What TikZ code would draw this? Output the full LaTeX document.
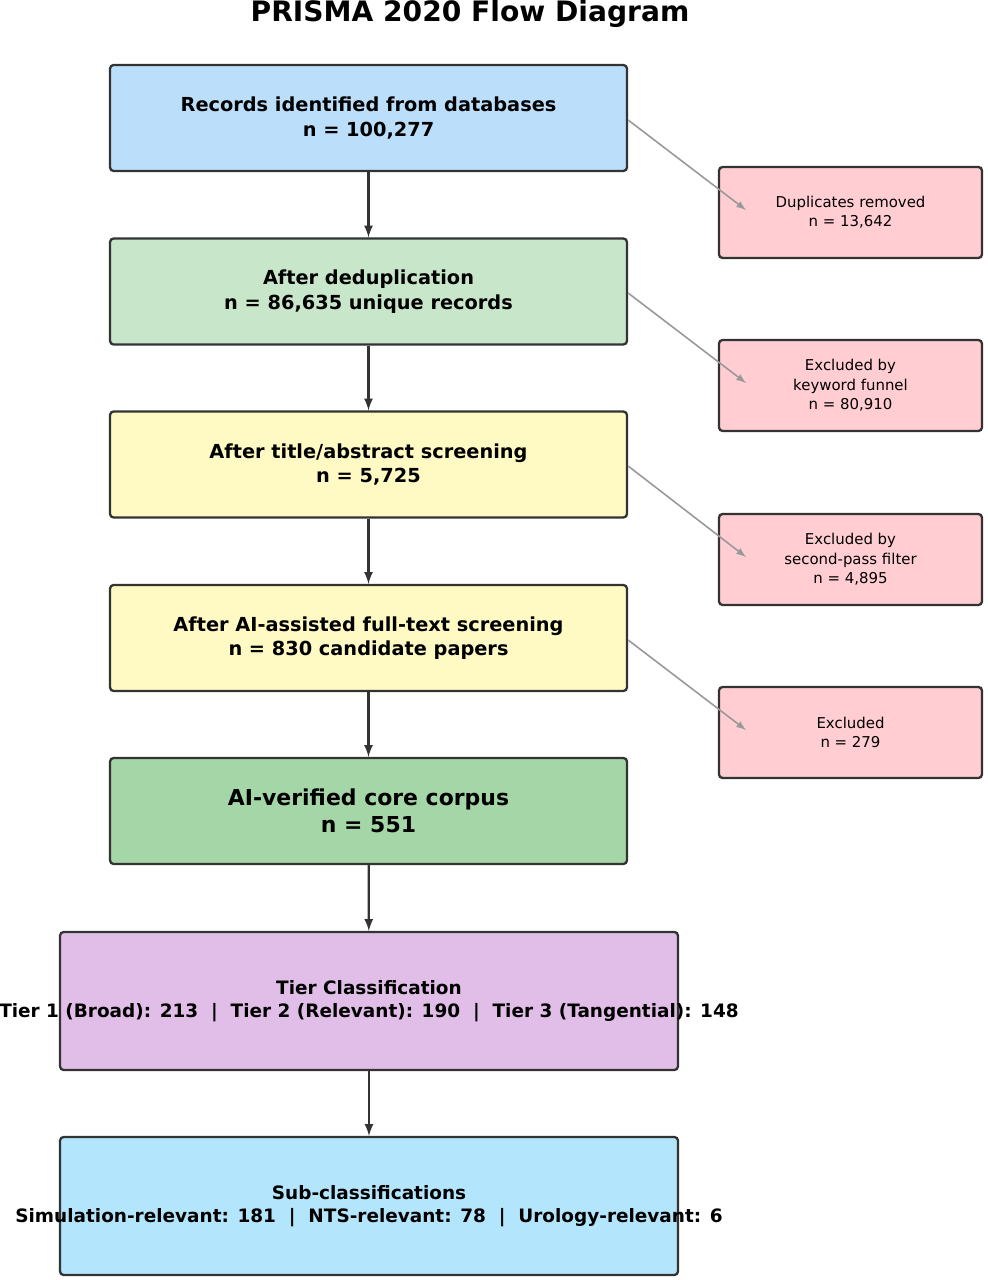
\documentclass[tikz,border=0pt]{standalone}
\usepackage{fontspec}
\setmainfont{DejaVu Sans}
\usetikzlibrary{positioning}
\definecolor{cblue}{HTML}{BBDEFB}
\definecolor{cgreen}{HTML}{C8E6C9}
\definecolor{cyellow}{HTML}{FFF9C4}
\definecolor{cpink}{HTML}{FFCDD2}
\definecolor{ccore}{HTML}{A5D6A7}
\definecolor{cpurple}{HTML}{E1BEE7}
\definecolor{clblue}{HTML}{B3E5FC}
\definecolor{cedge}{HTML}{333333}
\newcommand{\spillline}[1]{\makebox[0pt]{#1}}
\tikzset{
  mainbox/.style={draw=cedge, line width=1.3pt, rounded corners=2pt, minimum width=10.34cm, minimum height=2.12cm, align=center, font=\fontsize{11}{14}\selectfont\bfseries},
  widebox/.style={mainbox, minimum width=12.36cm, minimum height=2.76cm, font=\fontsize{10.5}{13}\selectfont\bfseries},
  sidebox/.style={draw=cedge, line width=1.3pt, rounded corners=2pt, fill=cpink, minimum width=5.26cm, minimum height=1.82cm, align=center, font=\fontsize{8.5}{11}\selectfont},
  flow/.style={-latex, line width=1.3pt, draw=cedge},
  drop/.style={-latex, line width=0.9pt, draw=gray!80}
}
\begin{document}
\begin{tikzpicture}[x=0.02cm, y=-0.02cm]
\useasboundingbox[fill=white] (0,0) rectangle (987,1280);
\node[font=\fontsize{16}{18}\selectfont\bfseries] (title) at (470,14) {PRISMA 2020 Flow Diagram};

\node[mainbox, fill=cblue] (ident) at (368.5,118) {Records identified from databases\\n = 100,277};
\node[mainbox, fill=cgreen] (dedup) at (368.5,291.5) {After deduplication\\n = 86,635 unique records};
\node[mainbox, fill=cyellow] (title2) at (368.5,464.5) {After title/abstract screening\\n = 5,725};
\node[mainbox, fill=cyellow] (full) at (368.5,638) {After AI-assisted full-text screening\\n = 830 candidate papers};
\node[mainbox, fill=ccore, font=\fontsize{12.5}{15.5}\selectfont\bfseries] (core) at (368.5,811) {AI-verified core corpus\\n = 551};
\node[widebox, fill=cpurple] (tier) at (369,1001) {Tier Classification\\\spillline{Tier 1 (Broad): 213 \ | \ Tier 2 (Relevant): 190 \ | \ Tier 3 (Tangential): 148}};
\node[widebox, fill=clblue] (sub) at (369,1206) {Sub-classifications\\\spillline{Simulation-relevant: 181 \ | \ NTS-relevant: 78 \ | \ Urology-relevant: 6}};

\node[sidebox] (dup) at (850.5,212.5) {Duplicates removed\\n = 13,642};
\node[sidebox] (kw) at (850.5,385.5) {Excluded by\\keyword funnel\\n = 80,910};
\node[sidebox] (sec) at (850.5,559.5) {Excluded by\\second-pass filter\\n = 4,895};
\node[sidebox] (exc) at (850.5,732.5) {Excluded\\n = 279};

% main flow
\draw[flow] (ident) -- (dedup);
\draw[flow] (dedup) -- (title2);
\draw[flow] (title2) -- (full);
\draw[flow] (full) -- (core);
\draw[flow] (core) -- (tier);
\draw[flow] (tier) -- (sub);

% exclusions
\coordinate (d1) at (746,210);
\coordinate (d2) at (746,383);
\coordinate (d3) at (746,557);
\coordinate (d4) at (746,730);
\draw[drop] (ident.east |- 0,120) -- (d1);
\draw[drop] (dedup.east |- 0,293) -- (d2);
\draw[drop] (title2.east |- 0,466) -- (d3);
\draw[drop] (full.east |- 0,640) -- (d4);
\end{tikzpicture}
\end{document}
